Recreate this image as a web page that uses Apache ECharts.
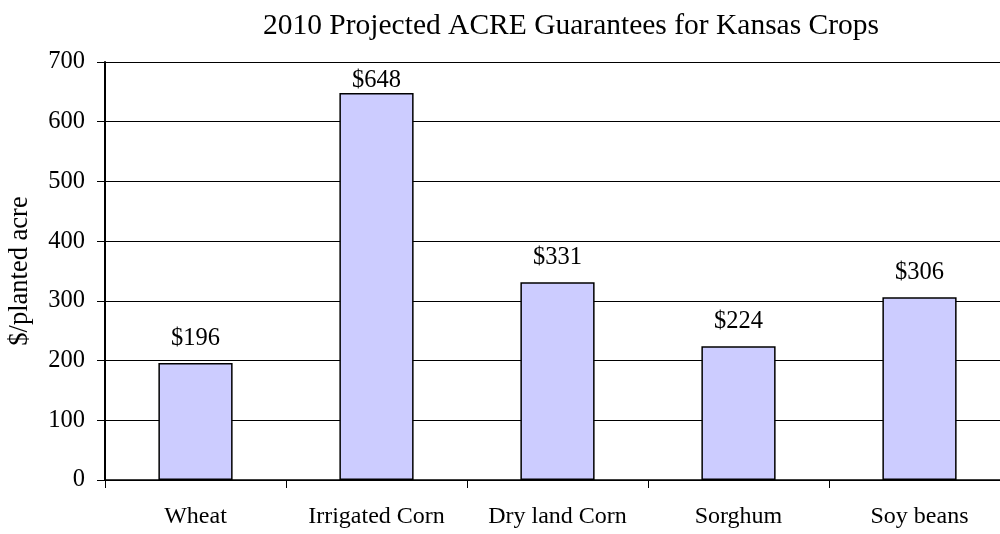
<!DOCTYPE html>
<html>
<head>
<meta charset="utf-8">
<script src="https://cdn.jsdelivr.net/npm/echarts@6/dist/echarts.min.js"></script>
<style>
  html, body { margin: 0; padding: 0; background: #fff; }
  #chart { width: 1000px; height: 534px; }
</style>
</head>
<body>
<div id="chart"></div>
<script>
var crops = ['Wheat', 'Irrigated Corn', 'Dry land Corn', 'Sorghum', 'Soy beans'];
var guarantees = [196, 648, 331, 224, 306];
var yTicks = [0, 100, 200, 300, 400, 500, 600, 700];

var serif = '"Liberation Serif", "Times New Roman", serif';
var yMax = yTicks[yTicks.length - 1];

// labels near the top of the plot get squeezed down, like the original
var barData = guarantees.map(function (v) {
  if (v > yMax - 80) {
    return { value: v, label: { distance: 0 } };
  }
  return v;
});

var myChart = echarts.init(document.getElementById('chart'));
var option = {
  animation: false,
  title: {
    text: '2010 Projected ACRE Guarantees for Kansas Crops',
    left: 566,
    top: 6,
    textAlign: 'center',
    textStyle: { fontFamily: serif, fontSize: 29.5, fontWeight: 'normal', color: '#000' }
  },
  grid: { left: 105, top: 62, width: 905, height: 418, containLabel: false, outerBoundsMode: 'none' },
  xAxis: {
    type: 'category',
    data: crops,
    axisLine: { lineStyle: { color: '#000', width: 1.5 } },
    axisTick: { show: true, length: 8, lineStyle: { color: '#000' } },
    axisLabel: { interval: 0, margin: 25, fontFamily: serif, fontSize: 24, color: '#000' }
  },
  yAxis: {
    type: 'value',
    min: yTicks[0],
    max: yMax,
    interval: 100,
    name: '$/planted acre',
    nameLocation: 'middle',
    nameGap: 71,
    nameTextStyle: { fontFamily: serif, fontSize: 26.5, color: '#000' },
    axisLine: { show: true, lineStyle: { color: '#000', width: 2 } },
    axisTick: { show: true, length: 8, lineStyle: { color: '#000' } },
    axisLabel: { margin: 20, fontFamily: serif, fontSize: 24.5, color: '#000' },
    splitLine: { lineStyle: { color: '#000', width: 1 } }
  },
  series: [{
    type: 'bar',
    data: barData,
    barWidth: '41%',
    itemStyle: { color: '#CCCCFF', borderColor: '#000', borderWidth: 1.5 },
    label: {
      show: true,
      position: 'top',
      distance: 12,
      formatter: function (p) { return '$' + p.value; },
      fontFamily: serif,
      fontSize: 24.5,
      color: '#000'
    }
  }]
};
myChart.setOption(option);
</script>
</body>
</html>
